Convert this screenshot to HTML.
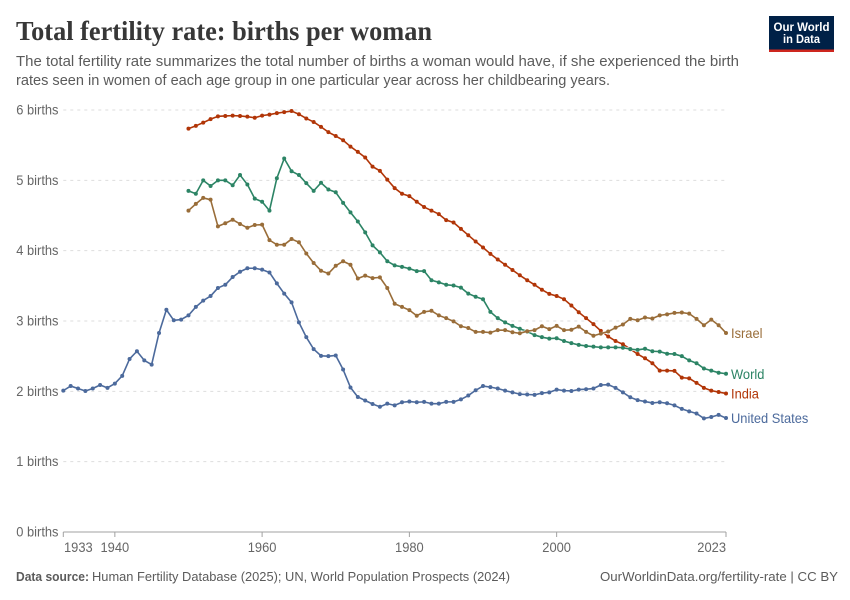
<!DOCTYPE html>
<html lang="en">
<head>
<meta charset="utf-8">
<title>Total fertility rate: births per woman</title>
<style>
html,body{margin:0;padding:0;background:#fff;}
svg{display:block;font-family:"Liberation Sans",Arial,sans-serif;}
</style>
</head>
<body>
<svg id="chart" xmlns="http://www.w3.org/2000/svg" width="850" height="600" viewBox="0 0 850 600">
  <rect width="850" height="600" fill="#ffffff"/>
  <text x="16" y="40" font-family="'Liberation Serif',serif" font-weight="700" font-size="27" fill="#373737" textLength="416" lengthAdjust="spacingAndGlyphs">Total fertility rate: births per woman</text>
  <text x="16" y="66" font-size="15" fill="#5b5b5b" textLength="723" lengthAdjust="spacingAndGlyphs">The total fertility rate summarizes the total number of births a woman would have, if she experienced the birth</text>
  <text x="16" y="85" font-size="15" fill="#5b5b5b" textLength="594" lengthAdjust="spacingAndGlyphs">rates seen in women of each age group in one particular year across her childbearing years.</text>
  <g>
    <rect x="769" y="16" width="65" height="36" fill="#002147"/>
    <rect x="769" y="49.5" width="65" height="2.5" fill="#ce261e"/>
    <text x="801.5" y="31" text-anchor="middle" font-size="12" font-weight="700" fill="#ffffff" textLength="56" lengthAdjust="spacingAndGlyphs">Our World</text>
    <text x="801.5" y="43" text-anchor="middle" font-size="12" font-weight="700" fill="#ffffff" textLength="37" lengthAdjust="spacingAndGlyphs">in Data</text>
  </g>
  <g id="grid"></g>
  <g id="axis"></g>
  <g id="series"></g>
  <text x="16" y="581" font-size="13" font-weight="700" fill="#5b5b5b" textLength="73" lengthAdjust="spacingAndGlyphs">Data source:</text>
  <text x="92" y="581" font-size="13" fill="#5b5b5b" textLength="418" lengthAdjust="spacingAndGlyphs">Human Fertility Database (2025); UN, World Population Prospects (2024)</text>
  <text x="600" y="581" font-size="13" fill="#5b5b5b" textLength="238" lengthAdjust="spacingAndGlyphs">OurWorldinData.org/fertility-rate | CC BY</text>
</svg>
<script>
const yTickValues = [0, 1, 2, 3, 4, 5, 6];
const xTickYears = [1933, 1940, 1960, 1980, 2000, 2023];

const usStartYear = 1933;
const otherStartYear = 1950;

const usValues = [
  2.01,2.075,2.04,2.005,2.04,2.09,2.05,2.11,2.22,2.46,2.57,2.44,2.38,2.83,3.16,3.01,3.02,
  3.08,3.20,3.29,3.355,3.47,3.515,3.625,3.70,3.75,3.75,3.73,3.69,3.535,3.39,3.265,2.98,2.77,2.60,2.505,
  2.50,2.51,2.31,2.055,1.92,1.87,1.82,1.78,1.825,1.80,1.845,1.855,1.845,1.85,1.825,1.825,1.85,1.85,1.885,
  1.94,2.015,2.075,2.06,2.04,2.01,1.985,1.96,1.955,1.95,1.975,1.985,2.025,2.01,2.005,2.025,2.03,2.04,2.09,
  2.095,2.05,1.985,1.915,1.875,1.855,1.835,1.845,1.83,1.80,1.75,1.715,1.685,1.615,1.635,1.665,1.62
];
const israelValues = [
  4.57,4.665,4.75,4.725,4.345,4.39,4.44,4.38,4.325,4.365,4.37,4.15,4.085,4.085,4.165,4.12,3.96,3.825,3.715,
  3.675,3.785,3.85,3.80,3.605,3.645,3.61,3.62,3.47,3.245,3.20,3.155,3.075,3.13,3.145,3.08,3.04,2.995,2.925,
  2.90,2.845,2.845,2.835,2.87,2.87,2.84,2.825,2.855,2.87,2.925,2.885,2.93,2.87,2.875,2.92,2.845,2.79,2.82,
  2.85,2.905,2.95,3.03,3.01,3.05,3.035,3.08,3.095,3.115,3.12,3.105,3.03,2.94,3.02,2.94,2.83
];
const worldValues = [
  4.85,4.81,5.00,4.92,5.00,5.00,4.93,5.075,4.94,4.74,4.695,4.57,5.03,5.31,5.13,5.075,4.96,4.85,4.965,
  4.87,4.83,4.68,4.545,4.415,4.26,4.075,3.975,3.85,3.79,3.77,3.745,3.71,3.71,3.58,3.55,3.515,3.505,3.475,
  3.39,3.345,3.31,3.13,3.04,2.98,2.93,2.89,2.85,2.80,2.77,2.75,2.755,2.715,2.685,2.66,2.645,2.635,2.625,
  2.625,2.625,2.62,2.60,2.59,2.605,2.57,2.565,2.535,2.53,2.50,2.44,2.40,2.325,2.295,2.265,2.25
];
const indiaValues = [
  5.735,5.775,5.82,5.87,5.91,5.915,5.92,5.915,5.905,5.89,5.92,5.935,5.955,5.97,5.985,5.94,5.88,5.83,5.76,
  5.685,5.63,5.57,5.48,5.405,5.325,5.195,5.135,5.01,4.89,4.81,4.775,4.695,4.62,4.57,4.52,4.435,4.40,4.31,
  4.22,4.13,4.045,3.955,3.875,3.80,3.725,3.65,3.58,3.515,3.445,3.385,3.355,3.31,3.22,3.125,3.04,2.955,2.86,
  2.78,2.715,2.67,2.60,2.53,2.47,2.40,2.295,2.295,2.29,2.195,2.185,2.12,2.05,2.01,1.99,1.97
];

const NS = 'http://www.w3.org/2000/svg';
const plotLeft = 63.3, plotRight = 726, plotBottom = 532, plotTop = 110;
const yearMin = 1933, yearMax = 2023, valueMax = 6;
const latoWidthFactor = 0.92;

function xScale(year) {
  return plotLeft + (year - yearMin) / (yearMax - yearMin) * (plotRight - plotLeft);
}
function yScale(value) {
  return plotBottom - value / valueMax * (plotBottom - plotTop);
}
function svgEl(tag, attrs, parent) {
  const el = document.createElementNS(NS, tag);
  for (const key in attrs) el.setAttribute(key, attrs[key]);
  parent.appendChild(el);
  return el;
}
function narrow(el) {
  el.setAttribute('textLength', (el.getComputedTextLength() * latoWidthFactor).toFixed(1));
  el.setAttribute('lengthAdjust', 'spacingAndGlyphs');
}

const gridGroup = document.getElementById('grid');
yTickValues.forEach(function (value) {
  if (value > 0) {
    const line = svgEl('line', {x1: plotLeft, x2: plotRight, y1: yScale(value), y2: yScale(value), stroke: '#dddddd', 'stroke-width': 1, 'stroke-dasharray': '3,4'}, gridGroup);
    
    
  }
  const label = svgEl('text', {x: 58.5, y: yScale(value) + 4.5, 'text-anchor': 'end', 'font-size': 14, fill: '#666666'}, gridGroup);
  label.textContent = value + ' births';
  
  
  narrow(label);
});

const axisGroup = document.getElementById('axis');
const axisLine = svgEl('line', {x1: plotLeft, x2: plotRight, y1: plotBottom, y2: plotBottom, stroke: '#a1a1a1', 'stroke-width': 1}, axisGroup);


xTickYears.forEach(function (year, i) {
  const tick = svgEl('line', {x1: xScale(year), x2: xScale(year), y1: plotBottom, y2: plotBottom + 5, stroke: '#a1a1a1', 'stroke-width': 1}, axisGroup);
  
  
  const isFirst = i === 0, isLast = i === xTickYears.length - 1;
  const label = svgEl('text', {
    x: isFirst ? xScale(year) + 0.7 : xScale(year),
    y: 552,
    'text-anchor': isFirst ? 'start' : (isLast ? 'end' : 'middle'),
    'font-size': 14,
    fill: '#666666'
  }, axisGroup);
  label.textContent = year;
  
  
  narrow(label);
});

const seriesGroup = document.getElementById('series');
function drawSeries(name, label, values, startYear, color) {
  const group = svgEl('g', {}, seriesGroup);
  
  
  const pts = values.map(function (v, i) {
    return xScale(startYear + i).toFixed(2) + ',' + yScale(v).toFixed(2);
  }).join(' ');
  const halo = svgEl('polyline', {points: pts, fill: 'none', stroke: '#ffffff', 'stroke-width': 3, 'stroke-linejoin': 'round', opacity: 0.8}, group);
  
  
  const line = svgEl('polyline', {points: pts, fill: 'none', stroke: color, 'stroke-width': 1.6, 'stroke-linejoin': 'round'}, group);
  
  
  values.forEach(function (v, i) {
    const dot = svgEl('circle', {cx: xScale(startYear + i), cy: yScale(v), r: 2, fill: color}, group);
    
    
  });
  const lastValue = values[values.length - 1];
  const text = svgEl('text', {x: 731, y: yScale(lastValue) + 5, 'font-size': 14, fill: color}, group);
  text.textContent = label;
  
  
  narrow(text);
}
drawSeries('united-states', 'United States', usValues, usStartYear, '#4c6a9c');
drawSeries('india', 'India', indiaValues, otherStartYear, '#b13507');
drawSeries('world', 'World', worldValues, otherStartYear, '#2c8465');
drawSeries('israel', 'Israel', israelValues, otherStartYear, '#996d39');
</script>
</body>
</html>
